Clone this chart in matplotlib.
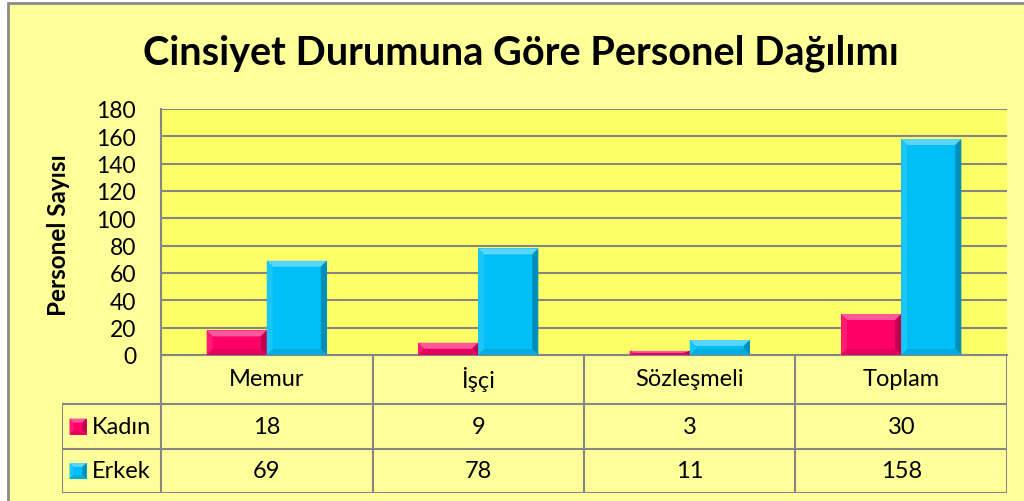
import matplotlib.pyplot as plt
from matplotlib.patches import Rectangle, Polygon
import numpy as np

W, H = 1024, 502

TITLE = "Cinsiyet Durumuna Göre Personel Dağılımı"
Y_LABEL = "Personel Sayısı"
categories = ["Memur", "İşçi", "Sözleşmeli", "Toplam"]
series_names = ["Kadın", "Erkek"]
kadin = [18, 9, 3, 30]
erkek = [69, 78, 11, 158]
y_ticks = list(range(0, 181, 20))

PINK = '#FF0066'
BLUE = '#00BEF6'
BG = '#FFFF99'
PLOT_BG = '#FFFF66'
GRID = '#868686'
FONT = ['Lato', 'DejaVu Sans']
TXT = 17

plt.rcParams['font.family'] = FONT


def shade(color, f):
    c = np.array(plt.matplotlib.colors.to_rgb(color))
    if f > 0:
        c = c + (1 - c) * f
    else:
        c = c * (1 + f)
    return tuple(np.clip(c, 0, 1))


def fig_rect(x0, y0, x1, y1):
    # pixel box (top-left origin) -> figure fractions
    return [x0 / W, 1 - y1 / H, (x1 - x0) / W, (y1 - y0) / H]


def bevel(ax, patch, color, px=6):
    # bevel faces on a bar, bevel size given in pixels
    x, y = patch.get_x(), patch.get_y()
    w, h = patch.get_width(), patch.get_height()
    inv = ax.transData.inverted()
    p0 = ax.transData.transform((x, y))
    bx, by = np.abs(inv.transform(p0 + np.array([px, px])) - np.array([x, y]))
    by = min(by, h / 2)
    bx = min(bx, w / 2)
    x1, y1 = x + w, y + h
    faces = [
        ([(x, y1), (x1, y1), (x1 - bx, y1 - by), (x + bx, y1 - by)], shade(color, 0.35)),
        ([(x, y), (x + bx, y + by), (x + bx, y1 - by), (x, y1)], shade(color, 0.1)),
        ([(x1, y), (x1, y1), (x1 - bx, y1 - by), (x1 - bx, y + by)], shade(color, -0.25)),
        ([(x, y), (x1, y), (x1 - bx, y + by), (x + bx, y + by)], shade(color, -0.1)),
    ]
    for pts, c in faces:
        ax.add_patch(Polygon(pts, closed=True, facecolor=c, edgecolor='none',
                             zorder=patch.get_zorder() + 0.1))


fig = plt.figure(figsize=(W / 100, H / 100), dpi=100, facecolor='white')

# chart area background and border (left/top edges visible)
fig.patches.append(Rectangle((8 / W, -0.1), 1.2, 1 - 4 / H + 0.1, transform=fig.transFigure,
                             facecolor=BG, edgecolor='#8C8C8C', linewidth=2, zorder=-5))

fig.text(521 / W, 1 - 53 / H, TITLE, ha='center', va='center', fontsize=28.5,
         fontweight='bold', color='black')

ax = fig.add_axes(fig_rect(161, 110, 1007, 356))
ax.set_facecolor(PLOT_BG)
x = np.arange(len(categories))
bw = 0.284
bars_k = ax.bar(x - bw / 2, kadin, bw, color=PINK, zorder=3)
bars_e = ax.bar(x + bw / 2, erkek, bw, color=BLUE, zorder=3)
ax.set_xlim(-0.5, len(categories) - 0.5)
ax.set_ylim(0, 180)
ax.set_yticks(y_ticks)
ax.set_xticks([])
ax.tick_params(axis='y', length=0, labelsize=16.5, pad=18)
ax.yaxis.grid(True, color=GRID, linewidth=1.5, zorder=0)
ax.set_axisbelow(True)
for s in ['top', 'right']:
    ax.spines[s].set_visible(False)
for s in ['left', 'bottom']:
    ax.spines[s].set_color(GRID)
    ax.spines[s].set_linewidth(1.5)
ax.set_ylabel(Y_LABEL, fontsize=17.5, fontweight='bold')
ax.yaxis.set_label_coords((70 - 161) / 846, 0.49)

fig.canvas.draw()
for bars, col in [(bars_k, PINK), (bars_e, BLUE)]:
    for p in bars:
        bevel(ax, p, col)

# data table under the plot (y measured in pixels from the table bottom)
unit = 846 / len(categories)
leg_w = 99 / unit
tab = fig.add_axes(fig_rect(62, 356, 1007, 494))
tab.set_xlim(-0.5 - leg_w, len(categories) - 0.5)
tab.set_ylim(0, 138)
tab.axis('off')
rows = [138, 89, 44, 0]
lc = dict(color=GRID, linewidth=1.5, solid_capstyle='projecting')
left = -0.5 - leg_w
right = len(categories) - 0.5
for r in rows[1:]:
    tab.plot([left, right], [r, r], **lc)
for i in range(len(categories) + 1):
    tab.plot([i - 0.5, i - 0.5], [0, 138], **lc)
tab.plot([left, left], [rows[1], rows[3]], **lc)

for i, c in enumerate(categories):
    tab.text(i, (rows[0] + rows[1]) / 2 + 1, c, ha='center', va='center', fontsize=TXT)
fig.canvas.draw()
for j, (name, vals, col) in enumerate([(series_names[0], kadin, PINK),
                                        (series_names[1], erkek, BLUE)]):
    yc = (rows[j + 1] + rows[j + 2]) / 2
    for i, v in enumerate(vals):
        tab.text(i, yc, str(v), ha='center', va='center', fontsize=TXT)
    sq = tab.bar([left + 16 / unit], [16], 17 / unit, bottom=[yc - 8], color=col, zorder=3)
    bevel(tab, sq[0], col, px=4)
    tab.text(left + 30 / unit, yc, name, ha='left', va='center', fontsize=TXT)

fig.savefig('out.png', dpi=100, facecolor=fig.get_facecolor())
